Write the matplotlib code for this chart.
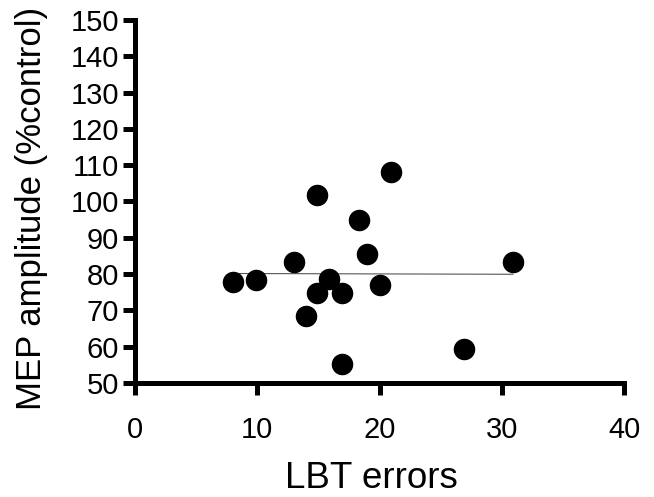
import matplotlib.pyplot as plt
import numpy as np

plt.rcParams["font.family"] = ["Liberation Sans", "DejaVu Sans"]

# LBT errors vs MEP amplitude (% control)
lbt_errors = [8.0, 9.9, 13.0, 14.9, 14.9, 15.9, 14.0, 16.9, 16.9, 18.3, 19.0, 20.0, 20.9, 26.9, 30.9]
mep_amp = [77.7, 78.3, 83.3, 101.9, 74.8, 78.6, 68.4, 74.8, 55.3, 94.8, 85.4, 77.1, 108.0, 59.5, 83.2]

x = np.array(lbt_errors)
y = np.array(mep_amp)

fig = plt.figure(figsize=(6.54, 4.97), dpi=100)
ax = fig.add_axes([0.2064, 0.2294, 0.748, 0.7304])

# linear fit drawn across the data range
slope, icpt = np.polyfit(x, y, 1)
xs = np.array([x.min(), x.max()])
ax.plot(xs, slope * xs + icpt, color='#555555', lw=0.8, zorder=1)

ax.scatter(x, y, s=210, color='black', zorder=2, clip_on=False)

ax.set_xlim(0, 40)
ax.set_ylim(50, 150)
ax.set_xticks(np.arange(0, 41, 10))
ax.set_yticks(np.arange(50, 151, 10))

for s in ['top', 'right']:
    ax.spines[s].set_visible(False)
for s in ['left', 'bottom']:
    ax.spines[s].set_linewidth(3.6)
ax.tick_params(axis='both', direction='out', length=8.5, width=3.6, labelsize=21, colors='black')
ax.tick_params(axis='y', pad=3)
ax.tick_params(axis='x', pad=15)

ax.set_xlabel('LBT errors', fontsize=26.5)
ax.xaxis.set_label_coords(371 / 654, 8.5 / 497, transform=fig.transFigure)
ax.xaxis.label.set_va('baseline')

ax.set_ylabel('MEP amplitude (%control)', fontsize=25)
ax.yaxis.set_label_coords(40.7 / 654, 1 - 208.5 / 497, transform=fig.transFigure)
ax.yaxis.label.set_va('baseline')
ax.yaxis.label.set_rotation_mode('anchor')

fig.savefig('out.png', dpi=100)
